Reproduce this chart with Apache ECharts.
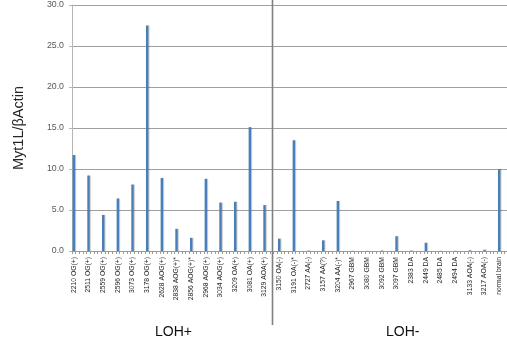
<!DOCTYPE html>
<html>
<head>
<meta charset="utf-8">
<script src="https://cdn.jsdelivr.net/npm/echarts@6/dist/echarts.min.js"></script>
<style>
html,body{margin:0;padding:0;background:#fff;overflow:hidden;}
#chart{width:507px;height:342px;}
</style>
</head>
<body>
<div id="chart"></div>
<script>
const categories = [
  '2210 OG(+)','2511 OG(+)','2559 OG(+)','2596 OG(+)','3073 OG(+)','3178 OG(+)',
  '2628 AOG(+)','2838 AOG(+)*','2856 AOG(+)*','2968 AOG(+)','3034 AOG(+)',
  '3209 OA(+)','3081 OA(+)','3129 AOA(+)',
  '3150 OA(-)','3191 OA(-)*','2727 AA(-)','3157 AA(?)','3204 AA(-)*',
  '2967 GBM','3080 GBM','3092 GBM','3097 GBM',
  '2383 DA','2449 DA','2485 DA','2494 DA',
  '3133 AOA(-)','3217 AOA(-)','normal brain'
];
const values = [
  11.7, 9.2, 4.4, 6.4, 8.1, 27.5,
  8.9, 2.7, 1.6, 8.8, 5.9,
  6.0, 15.1, 5.6,
  1.5, 13.5, 0.05, 1.3, 6.1,
  0.02, 0.02, 0.05, 1.8,
  0.05, 1.0, 0.02, 0.03,
  0.08, 0.15, 10.0
];
const groupLabels = ['LOH+', 'LOH-'];
const groupSizes = [14, 16];
const yMin = 0, yMax = 30, yStep = 5;
const yName = 'Myt1L/βActin';

// each category occupies 4 sub-slots on the axis; the bar sits in the first
const SLOTS = 4;
const xData = [];
const barData = [];
categories.forEach((c, i) => {
  xData.push(c);
  barData.push(values[i]);
  for (let k = 1; k < SLOTS; k++) {
    xData.push('#' + i + '.' + k);
    barData.push('-');
  }
});

const chart = echarts.init(document.getElementById('chart'), null, {renderer: 'canvas'});
const font = 'Liberation Sans, Arial, sans-serif';

chart.setOption({
  animation: false,
  grid: {left: 72, top: 5, height: 246, width: 440, containLabel: false, outerBoundsMode: 'none'},
  xAxis: {
    type: 'category',
    data: xData,
    boundaryGap: true,
    axisLine: {lineStyle: {color: '#9a9a9a', width: 1}},
    axisTick: {show: true, interval: 0, length: 3, lineStyle: {color: '#9a9a9a'}},
    axisLabel: {
      interval: (idx) => idx % SLOTS === 0,
      rotate: 90,
      margin: 6,
      fontSize: 6.8,
      color: '#262626',
      fontFamily: font
    },
    splitLine: {show: false}
  },
  yAxis: {
    type: 'value',
    min: yMin, max: yMax, interval: yStep,
    name: yName,
    nameLocation: 'middle',
    nameGap: 46,
    nameTextStyle: {fontSize: 14.5, color: '#262626', fontFamily: font},
    axisLine: {show: true, lineStyle: {color: '#b5b5b5'}},
    axisTick: {show: true, length: 3, lineStyle: {color: '#b5b5b5'}},
    axisLabel: {
      formatter: (v) => v.toFixed(1),
      fontSize: 8.8, color: '#595959', margin: 8, fontFamily: font
    },
    splitLine: {lineStyle: {color: '#a0a0a0', width: 1}}
  },
  series: [{
    type: 'bar',
    data: barData,
    barWidth: 2.4,
    itemStyle: {
      color: '#4a7ebb',
      shadowColor: 'rgba(0,0,0,0.25)',
      shadowOffsetX: 1,
      shadowBlur: 1
    }
  }]
});

// separator and group labels placed from the axis scale
const idxEnd0 = (groupSizes[0] - 1) * SLOTS;
const idxStart1 = groupSizes[0] * SLOTS;
const xa = chart.convertToPixel({xAxisIndex: 0}, idxEnd0);
const xb = chart.convertToPixel({xAxisIndex: 0}, idxStart1);
const sepX = Math.round((xa + xb) / 2) + 0.5;

chart.setOption({
  graphic: [
    {type: 'line', shape: {x1: sepX, y1: 0, x2: sepX, y2: 325},
     style: {stroke: '#808080', lineWidth: 1.6}, z: 100},
    {type: 'text', left: 155, top: 325,
     style: {text: groupLabels[0], fontSize: 14, fill: '#111', fontFamily: font}},
    {type: 'text', left: 386, top: 325,
     style: {text: groupLabels[1], fontSize: 14, fill: '#111', fontFamily: font}}
  ]
});
</script>
</body>
</html>
